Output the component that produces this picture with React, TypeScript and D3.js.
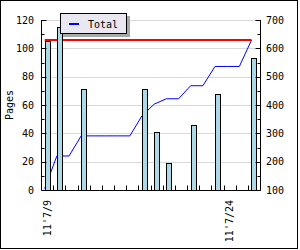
import React from 'react';
import * as d3 from 'd3';

// one band per day, 11'7/9 .. 11'7/26
const days = [
  "11'7/9", "11'7/10", "11'7/11", "11'7/12", "11'7/13", "11'7/14",
  "11'7/15", "11'7/16", "11'7/17", "11'7/18", "11'7/19", "11'7/20",
  "11'7/21", "11'7/22", "11'7/23", "11'7/24", "11'7/25", "11'7/26",
];
const shownLabels = ["11'7/9", "11'7/24"];
const pages = [105, 115, 0, 71, 0, 0, 0, 0, 71, 41, 19, 0, 46, 0, 68, 0, 0, 93];
const leftTicks = [0, 20, 40, 60, 80, 100, 120];
const leftMinor = [10, 30, 50, 70, 90, 110];
const rightTicks = [100, 200, 300, 400, 500, 600, 700];
const rightMinor = [150, 250, 350, 450, 550, 650];

const W = 300, H = 250;
const m = { left: 41, right: 40, top: 20, bottom: 60 };
const font = 'DejaVu Sans Mono, monospace';

export default function App() {
  const total = Array.from(d3.cumsum(pages));
  const x = d3.scaleBand().domain(days).range([m.left, W - m.right]);
  const yL = d3.scaleLinear().domain([0, 120]).range([H - m.bottom, m.top]);
  const yR = d3.scaleLinear().domain([100, 700]).range([H - m.bottom, m.top]);
  const cx = (d: string) => (x(d) as number) + x.bandwidth() / 2;
  const lx = (d: string) => cx(d) - 2.4;

  const lineFn = d3.line<number>()
    .x((d, i) => lx(days[i]))
    .y(d => yR(d));

  const x0 = m.left + 0.5, x1 = W - m.right + 0.5, yB = H - m.bottom + 0.5;
  const last = total[total.length - 1];

  return (
    <svg width={W} height={H} style={{ position: 'absolute', left: 0, top: 0, background: '#fff' }}
      fontFamily={font} fontSize={10}>
      <rect x={0.5} y={0.5} width={297} height={248} fill="#fff" stroke="#000" />

      {/* grid */}
      {leftTicks.slice(1).map(t => (
        <line key={'g' + t} x1={x0} x2={x1} y1={Math.round(yL(t)) + 0.5} y2={Math.round(yL(t)) + 0.5}
          stroke="#d9d9d9" />
      ))}

      {/* cumulative line */}
      <path d={lineFn(total) || ''} fill="none" stroke="#0000ff" strokeWidth={1} />
      <line x1={lx(days[0])} x2={lx(days[days.length - 1])} y1={yR(last)} y2={yR(last)}
        stroke="#ff0000" strokeWidth={2} />

      {/* bars */}
      {pages.map((v, i) => v > 0 && (
        <rect key={'b' + i} x={Math.round(cx(days[i]) - 2.5) + 0.5} y={Math.round(yL(v)) + 0.5}
          width={5} height={Math.round(yL(0)) - Math.round(yL(v))}
          fill="#add8e6" stroke="#000" />
      ))}

      {/* axes */}
      <line x1={x0} x2={x0} y1={m.top} y2={yB} stroke="#000" />
      <line x1={x1} x2={x1} y1={m.top} y2={yB} stroke="#000" />
      <line x1={x0} x2={x1} y1={yB} y2={yB} stroke="#000" />
      {days.slice(1).map(d => (
        <line key={'xt' + d} x1={Math.round(x(d) as number) + 0.5} x2={Math.round(x(d) as number) + 0.5}
          y1={yB - 5} y2={yB} stroke="#000" />
      ))}
      {leftTicks.map(t => (
        <g key={'lt' + t}>
          <line x1={x0} x2={x0 + 5} y1={Math.round(yL(t)) + 0.5} y2={Math.round(yL(t)) + 0.5} stroke="#000" />
          <text x={34} y={yL(t) + 3.5} textAnchor="end">{t}</text>
        </g>
      ))}
      {leftMinor.map(t => (
        <line key={'lm' + t} x1={x0} x2={x0 + 3} y1={Math.round(yL(t)) + 0.5} y2={Math.round(yL(t)) + 0.5} stroke="#000" />
      ))}
      {rightTicks.map(t => (
        <g key={'rt' + t}>
          <line x1={x1 - 5} x2={x1} y1={Math.round(yR(t)) + 0.5} y2={Math.round(yR(t)) + 0.5} stroke="#000" />
          <text x={266} y={yR(t) + 3.5}>{t}</text>
        </g>
      ))}
      {rightMinor.map(t => (
        <line key={'rm' + t} x1={x1 - 3} x2={x1} y1={Math.round(yR(t)) + 0.5} y2={Math.round(yR(t)) + 0.5} stroke="#000" />
      ))}
      {shownLabels.map(d => (
        <text key={'xl' + d} transform={`translate(${cx(d) + 3.5},200) rotate(-90)`} textAnchor="end">{d}</text>
      ))}
      <text transform={`translate(12.5,${(m.top + H - m.bottom) / 2}) rotate(-90)`} textAnchor="middle">Pages</text>

      {/* legend */}
      <rect x={63} y={16} width={67} height={21} fill="#a8a8a8" />
      <rect x={60.5} y={13.5} width={66} height={20} fill="#e9e7ef" stroke="#000" />
      <line x1={69} x2={79} y1={24} y2={24} stroke="#0000ff" strokeWidth={2} />
      <text x={88} y={27.5}>Total</text>
    </svg>
  );
}
